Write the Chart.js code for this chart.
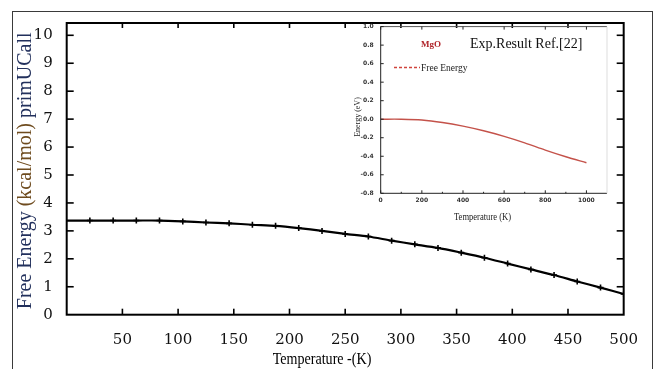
<!DOCTYPE html>
<html><head><meta charset="utf-8">
<script src="https://cdn.jsdelivr.net/npm/chart.js@4"></script>
<style>
html,body{margin:0;padding:0;background:#fff;}
#wrap{position:relative;width:654px;height:369px;overflow:hidden;background:#fff;}
#frame{position:absolute;left:12px;top:11px;width:641px;height:400px;border:1px solid #3a3a3a;box-sizing:border-box;}
#main{position:absolute;left:0;top:0;}
#inset{position:absolute;left:330px;top:16px;}
</style></head><body>
<div id="wrap"><div id="frame"></div>
<canvas id="main" width="654" height="369"></canvas>
<canvas id="inset" width="300" height="215"></canvas></div>
<script>
// ---- main chart data ----
const temperatureK = [0, 20.8, 41.7, 62.5, 83.3, 104.2, 125, 145.8, 166.7, 187.5, 208.3, 229.2, 250, 270.8, 291.7, 312.5, 333.3, 354.2, 375, 395.8, 416.7, 437.5, 458.3, 479.2, 500];
const freeEnergy = [3.37, 3.37, 3.37, 3.37, 3.37, 3.34, 3.30, 3.27, 3.22, 3.18, 3.10, 3.00, 2.89, 2.80, 2.65, 2.52, 2.39, 2.22, 2.04, 1.83, 1.62, 1.42, 1.19, 0.97, 0.74];
const xTicks = [50, 100, 150, 200, 250, 300, 350, 400, 450, 500];
const yTicks = [0, 1, 2, 3, 4, 5, 6, 7, 8, 9, 10];
const xTitle = "Temperature -(K)";
const yTitleParts = ["Free Energy ", "(kcal/mol)", " primUCall"];

// ---- inset data ----
const insetT = [0, 100, 200, 300, 400, 500, 600, 700, 800, 900, 1000];
const insetE = [0, 0, -0.008, -0.035, -0.075, -0.125, -0.185, -0.255, -0.333, -0.405, -0.47];
const insetXTicks = [0, 200, 400, 600, 800, 1000];
const insetXMinor = [100, 300, 500, 700, 900];
const insetYTicks = [-0.8, -0.6, -0.4, -0.2, 0.0, 0.2, 0.4, 0.6, 0.8, 1.0];
const insetLabel = "MgO";
const insetHeading = "Exp.Result Ref.[22]";
const insetSeries = "Free Energy";
const insetXTitle = "Temperature (K)";
const insetYTitle = "Energy (eV)";

function seg(ctx, x1, y1, x2, y2){ctx.beginPath();ctx.moveTo(x1,y1);ctx.lineTo(x2,y2);ctx.stroke();}

const mainDeco = {
  id: 'mainDeco',
  afterDraw(chart){
    const {ctx, chartArea: a, scales: {x, y}} = chart;
    ctx.save();
    ctx.strokeStyle = '#000';
    ctx.lineWidth = 2;
    ctx.strokeRect(a.left, a.top, a.right - a.left, a.bottom - a.top);
    ctx.lineWidth = 1.6;
    xTicks.forEach(v => {
      if (v >= 500) return;
      const px = x.getPixelForValue(v);
      seg(ctx, px, a.bottom, px, a.bottom - 6);
      seg(ctx, px, a.top, px, a.top + 5);
    });
    yTicks.forEach(v => {
      if (v <= 0) return;
      const py = y.getPixelForValue(v);
      seg(ctx, a.left, py, a.left + 7, py);
      seg(ctx, a.right, py, a.right - 7, py);
    });
    // y title, multi-coloured
    ctx.font = '20px "Liberation Serif"';
    const colors = ['#22305c', '#6e4b1e', '#22305c'];
    const total = yTitleParts.reduce((s, t) => s + ctx.measureText(t).width, 0);
    ctx.translate(31, (a.top + a.bottom) / 2 + 2);
    ctx.rotate(-Math.PI / 2);
    ctx.textBaseline = 'alphabetic';
    ctx.textAlign = 'left';
    let cx = -total / 2;
    yTitleParts.forEach((t, i) => {
      ctx.fillStyle = colors[i];
      ctx.fillText(t, cx, 0);
      cx += ctx.measureText(t).width;
    });
    ctx.restore();
    // x title
    ctx.save();
    ctx.font = '16px "Liberation Serif"';
    ctx.fillStyle = '#000';
    ctx.textAlign = 'center';
    ctx.textBaseline = 'alphabetic';
    ctx.translate(322, 364);
    ctx.scale(0.88, 1);
    ctx.fillText(xTitle, 0, 0);
    ctx.restore();
  }
};

new Chart(document.getElementById('main'), {
  type: 'line',
  data: {
    datasets: [{
      data: temperatureK.map((t, i) => ({x: t, y: freeEnergy[i]})),
      borderColor: '#000',
      borderWidth: 2.2,
      tension: 0.25,
      pointStyle: 'cross',
      pointRadius: temperatureK.map(t => t === 0 ? 0 : 3),
      pointBorderColor: '#000',
      pointBorderWidth: 1.6,
      fill: false
    }]
  },
  options: {
    responsive: false,
    animation: false,
    devicePixelRatio: 1,
    layout: {padding: {left: 0, top: 14.5, right: 22, bottom: 0}},
    plugins: {legend: {display: false}, tooltip: {enabled: false}},
    scales: {
      x: {
        type: 'linear', min: 0, max: 500,
        grid: {display: false, drawTicks: false},
        border: {display: false},
        afterBuildTicks: s => { s.ticks = xTicks.map(v => ({value: v})); },
        afterFit: s => { s.height = 54.3; },
        ticks: {font: {family: 'DejaVu Serif', size: 15}, color: '#111', padding: 16, maxRotation: 0, autoSkip: false}
      },
      y: {
        type: 'linear', min: 0, max: 10.44,
        grid: {display: false, drawTicks: false},
        border: {display: false},
        afterBuildTicks: s => { s.ticks = yTicks.map(v => ({value: v})); },
        afterFit: s => { s.width = 66.7; },
        ticks: {font: {family: 'DejaVu Serif', size: 15}, color: '#111', padding: 14, autoSkip: false}
      }
    }
  },
  plugins: [mainDeco]
});

// ---- inset chart ----
const insetDeco = {
  id: 'insetDeco',
  afterDraw(chart){
    const {ctx, chartArea: a, scales: {x, y}} = chart;
    ctx.save();
    ctx.strokeStyle = '#222';
    ctx.lineWidth = 1;
    seg(ctx, a.left, a.top, a.left, a.bottom);
    seg(ctx, a.left, a.bottom, a.right, a.bottom);
    ctx.strokeStyle = '#555';
    seg(ctx, a.left, a.top, a.right, a.top);
    ctx.strokeStyle = '#ddd';
    seg(ctx, a.right, a.top, a.right, a.bottom);
    ctx.strokeStyle = '#222';
    insetXTicks.forEach(v => {
      const px = x.getPixelForValue(v);
      seg(ctx, px, a.bottom, px, a.bottom - 3);
      seg(ctx, px, a.top, px, a.top + 3);
    });
    insetXMinor.forEach(v => {
      const px = x.getPixelForValue(v);
      seg(ctx, px, a.bottom, px, a.bottom - 1.5);
    });
    insetYTicks.forEach(v => {
      const py = y.getPixelForValue(v);
      seg(ctx, a.left, py, a.left + 3, py);
    });
    // texts
    ctx.textAlign = 'center';
    ctx.textBaseline = 'alphabetic';
    ctx.fillStyle = '#b0242a';
    ctx.font = 'bold 9px "Liberation Serif"';
    ctx.fillText(insetLabel, 101, 31);
    ctx.fillStyle = '#111';
    ctx.font = '14px "Liberation Serif"';
    ctx.textAlign = 'left';
    ctx.fillText(insetHeading, 140, 32);
    ctx.strokeStyle = '#d0443c';
    ctx.lineWidth = 1.3;
    ctx.setLineDash([3, 2]);
    seg(ctx, 64, 51.5, 90, 51.5);
    ctx.setLineDash([]);
    ctx.font = '9.5px "Liberation Serif"';
    ctx.fillStyle = '#222';
    ctx.fillText(insetSeries, 91, 54.5);
    ctx.textAlign = 'center';
    ctx.save();
    ctx.font = '9.5px "Liberation Serif"';
    ctx.translate(152.5, 203.5);
    ctx.scale(0.9, 1);
    ctx.fillText(insetXTitle, 0, 0);
    ctx.restore();
    ctx.save();
    ctx.font = '8px "Liberation Serif"';
    ctx.translate(30, 101);
    ctx.rotate(-Math.PI / 2);
    ctx.fillText(insetYTitle, 0, 0);
    ctx.restore();
    ctx.restore();
  }
};

new Chart(document.getElementById('inset'), {
  type: 'line',
  data: {
    datasets: [{
      data: insetT.map((t, i) => ({x: t, y: insetE[i]})),
      borderColor: '#c4524a',
      borderWidth: 1.4,
      tension: 0.3,
      pointRadius: 0,
      fill: false
    }]
  },
  options: {
    responsive: false,
    animation: false,
    devicePixelRatio: 1,
    layout: {padding: {left: 0, top: 10, right: 23, bottom: 0}},
    plugins: {legend: {display: false}, tooltip: {enabled: false}},
    scales: {
      x: {
        type: 'linear', min: 0, max: 1100,
        grid: {display: false, drawTicks: false},
        border: {display: false},
        afterBuildTicks: s => { s.ticks = insetXTicks.map(v => ({value: v})); },
        afterFit: s => { s.height = 37.7; },
        ticks: {font: {family: 'DejaVu Sans', size: 6, weight: 'bold'}, color: '#333', padding: 4, maxRotation: 0, autoSkip: false,
          callback: v => String(v)}
      },
      y: {
        type: 'linear', min: -0.8, max: 1.0,
        grid: {display: false, drawTicks: false},
        border: {display: false},
        afterBuildTicks: s => { s.ticks = insetYTicks.map(v => ({value: v})); },
        afterFit: s => { s.width = 50.7; },
        ticks: {font: {family: 'DejaVu Sans', size: 6, weight: 'bold'}, color: '#333', padding: 7, autoSkip: false,
          callback: v => v.toFixed(1)}
      }
    }
  },
  plugins: [insetDeco]
});
</script>
</body></html>
